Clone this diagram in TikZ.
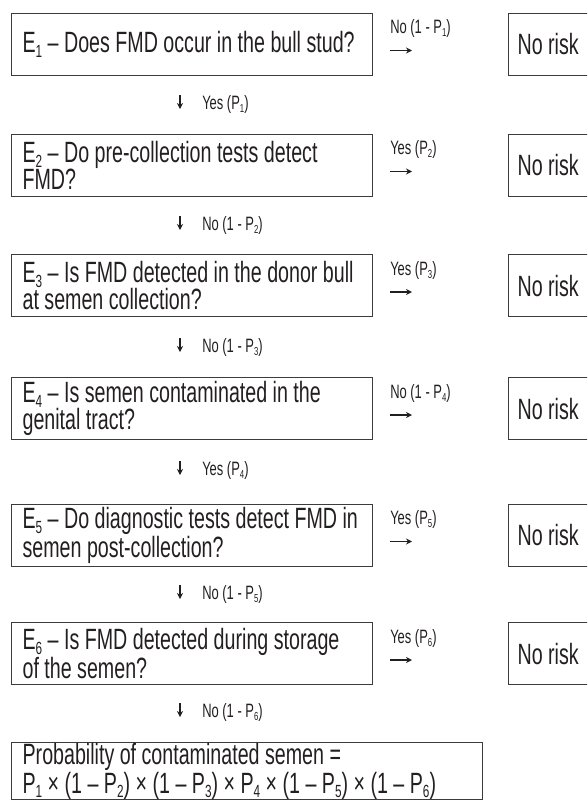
\documentclass[tikz,border=0pt]{standalone}
\usepackage{fontspec}
\setmainfont{Liberation Sans}[FakeStretch=0.67]
\usetikzlibrary{arrows.meta}
\definecolor{ink}{HTML}{231F20}
\definecolor{rule}{HTML}{3C3C3C}
\newcommand\mainsize{\fontsize{22pt}{20pt}\selectfont}
\newcommand\lblsize{\fontsize{14.5pt}{16pt}\selectfont}
\newcommand\sbs[1]{\raisebox{-0.3ex}{\scalebox{0.6}{#1}}}
\newcommand\pxu{0.75pt}

\begin{document}
\begin{tikzpicture}[
		x=0.75pt, y=-0.75pt,
		every node/.style={text=ink},
		qbox/.style={draw=rule, line width=0.9pt, anchor=north west,
				text width=339*\pxu, inner xsep=11*\pxu, inner ysep=0pt,
				minimum height=62*\pxu, align=flush left, font=\mainsize},
		riskbox/.style={qbox, text width=112*\pxu, inner xsep=9*\pxu},
		lbl/.style={anchor=base west, inner sep=0pt, font=\lblsize},
		arr/.style={draw=ink, line width=0.8pt, -{Stealth[length=4.5pt, width=4.5pt]}}
	]
	\useasboundingbox (0,0) rectangle (587,800);
	\clip (0,0) rectangle (587,800);

	% questions
	\node[qbox] (e1) at (11,12.5) {E\sbs{1} – Does FMD occur in the bull stud?};
	\node[qbox] (e2) at (11,133.5) {E\sbs{2} – Do pre-collection tests detect\\FMD?};
	\node[qbox] (e3) at (11,254) {E\sbs{3} – Is FMD detected in the donor bull\\at semen collection?};
	\node[qbox] (e4) at (11,377) {E\sbs{4} – Is semen contaminated in the\\genital tract?};
	\node[qbox] (e5) at (11,503.5) {E\sbs{5} – Do diagnostic tests detect FMD in\\semen post-collection?};
	\node[qbox] (e6) at (11,622) {E\sbs{6} – Is FMD detected during storage\\of the semen?};
	\node[qbox, text width=449*\pxu, minimum height=57*\pxu] (prob) at (11,742)
	{Probability of contaminated semen =\\P\sbs{1} × (1 – P\sbs{2}) × (1 – P\sbs{3}) × P\sbs{4} × (1 – P\sbs{5}) × (1 – P\sbs{6})};

	% no risk
	\node[riskbox] (r1) at (508,12.5) {No risk};
	\node[riskbox] (r2) at (508,133.5) {No risk};
	\node[riskbox] (r3) at (508,254) {No risk};
	\node[riskbox] (r4) at (508,377) {No risk};
	\node[riskbox] (r5) at (508,503.5) {No risk};
	\node[riskbox] (r6) at (508,622) {No risk};

	% side branches
	\node[lbl] (s1) at (390,33.5) {No (1 - P\sbs{1})};
	\node[lbl] (s2) at (390,154.5) {Yes (P\sbs{2})};
	\node[lbl] (s3) at (390,275) {Yes (P\sbs{3})};
	\node[lbl] (s4) at (390,398) {No (1 - P\sbs{4})};
	\node[lbl] (s5) at (390,524.5) {Yes (P\sbs{5})};
	\node[lbl] (s6) at (390,643) {Yes (P\sbs{6})};
	\draw[arr] ([shift={(0,17)}]s1.base west) -- ++(22,0);
	\draw[arr] ([shift={(0,17)}]s2.base west) -- ++(22,0);
	\draw[arr] ([shift={(0,17)}]s3.base west) -- ++(22,0);
	\draw[arr] ([shift={(0,17)}]s4.base west) -- ++(22,0);
	\draw[arr] ([shift={(0,17)}]s5.base west) -- ++(22,0);
	\draw[arr] ([shift={(0,17)}]s6.base west) -- ++(22,0);

	% down branches
	\node[lbl] (d1) at (202,109) {Yes (P\sbs{1})};
	\node[lbl] (d2) at (202,230) {No (1 - P\sbs{2})};
	\node[lbl] (d3) at (202,352) {No (1 - P\sbs{3})};
	\node[lbl] (d4) at (202,475) {Yes (P\sbs{4})};
	\node[lbl] (d5) at (202,599) {No (1 - P\sbs{5})};
	\node[lbl] (d6) at (202,717) {No (1 - P\sbs{6})};
	\draw[arr] ([shift={(-22,-14)}]d1.base west) -- ++(0,14);
	\draw[arr] ([shift={(-22,-14)}]d2.base west) -- ++(0,14);
	\draw[arr] ([shift={(-22,-14)}]d3.base west) -- ++(0,14);
	\draw[arr] ([shift={(-22,-14)}]d4.base west) -- ++(0,14);
	\draw[arr] ([shift={(-22,-14)}]d5.base west) -- ++(0,14);
	\draw[arr] ([shift={(-22,-14)}]d6.base west) -- ++(0,14);
\end{tikzpicture}
\end{document}
